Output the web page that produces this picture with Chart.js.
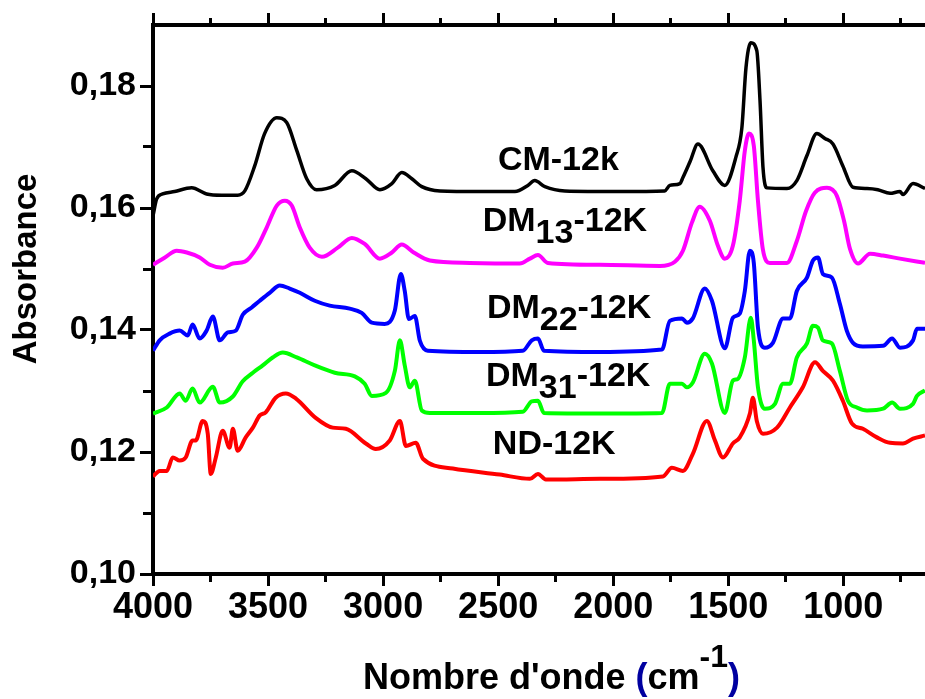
<!DOCTYPE html>
<html>
<head>
<meta charset="utf-8">
<script src="https://cdn.jsdelivr.net/npm/chart.js@4.4.0/dist/chart.umd.min.js"></script>
<style>
  html, body { margin: 0; padding: 0; background: #fff; }
  #wrap { width: 925px; height: 699px; }
</style>
</head>
<body>
<div id="wrap"><canvas id="spectres" width="925" height="699"></canvas></div>
<script>
// Spectres IR : absorbance en fonction du nombre d'onde (cm-1)
const cmWave = [4000, 3984, 3958, 3906, 3832, 3767, 3701, 3632, 3601, 3558, 3515, 3462, 3419, 3375, 3332, 3289, 3210, 3136, 3075, 3014, 2962, 2919, 2875, 2832, 2753, 2580, 2427, 2371, 2341, 2297, 2210, 1971, 1776, 1754, 1710, 1697, 1665, 1632, 1567, 1515, 1467, 1441, 1423, 1402, 1376, 1362, 1349, 1332, 1245, 1202, 1158, 1115, 1080, 1045, 1002, 958, 897, 850, 797, 754, 741, 697, 645];
const cmAbs = [0.1587, 0.1615, 0.1623, 0.1627, 0.1633, 0.1623, 0.1621, 0.1621, 0.1628, 0.1669, 0.1722, 0.1748, 0.1740, 0.1694, 0.1648, 0.1630, 0.1637, 0.1661, 0.1648, 0.1630, 0.1640, 0.1658, 0.1648, 0.1635, 0.1628, 0.1627, 0.1627, 0.1637, 0.1645, 0.1635, 0.1628, 0.1627, 0.1628, 0.1637, 0.1640, 0.1650, 0.1677, 0.1705, 0.1661, 0.1637, 0.1683, 0.1731, 0.1830, 0.1871, 0.1858, 0.1776, 0.1666, 0.1633, 0.1632, 0.1645, 0.1686, 0.1722, 0.1714, 0.1705, 0.1669, 0.1634, 0.1632, 0.1630, 0.1624, 0.1627, 0.1622, 0.1640, 0.1632];

const dm13Wave = [4000, 3948, 3897, 3853, 3797, 3753, 3697, 3653, 3601, 3549, 3506, 3462, 3427, 3397, 3362, 3319, 3266, 3197, 3136, 3080, 3014, 2962, 2919, 2867, 2797, 2623, 2406, 2362, 2327, 2284, 2058, 1797, 1732, 1697, 1658, 1624, 1580, 1545, 1515, 1480, 1450, 1428, 1410, 1389, 1371, 1350, 1319, 1245, 1202, 1162, 1124, 1071, 1028, 997, 971, 936, 884, 827, 754, 645];
const dm13Abs = [0.1507, 0.1519, 0.1530, 0.1527, 0.1519, 0.1507, 0.1502, 0.1509, 0.1512, 0.1535, 0.1568, 0.1604, 0.1612, 0.1604, 0.1568, 0.1535, 0.1520, 0.1535, 0.1551, 0.1541, 0.1517, 0.1527, 0.1540, 0.1527, 0.1514, 0.1510, 0.1509, 0.1517, 0.1523, 0.1510, 0.1507, 0.1505, 0.1512, 0.1530, 0.1576, 0.1602, 0.1579, 0.1538, 0.1517, 0.1538, 0.1612, 0.1694, 0.1722, 0.1702, 0.1612, 0.1533, 0.1510, 0.1510, 0.1546, 0.1595, 0.1625, 0.1633, 0.1620, 0.1579, 0.1533, 0.1509, 0.1525, 0.1522, 0.1517, 0.1510];

const dm22Wave = [4000, 3971, 3928, 3884, 3849, 3828, 3797, 3767, 3740, 3710, 3675, 3640, 3610, 3571, 3536, 3493, 3449, 3406, 3362, 3297, 3232, 3145, 3093, 3049, 2993, 2949, 2923, 2906, 2888, 2862, 2840, 2806, 2580, 2393, 2354, 2327, 2301, 2058, 1788, 1754, 1701, 1680, 1654, 1602, 1571, 1515, 1480, 1450, 1428, 1406, 1389, 1371, 1341, 1306, 1262, 1232, 1202, 1158, 1132, 1110, 1089, 1050, 1015, 985, 958, 915, 827, 788, 754, 697, 680, 645];
const dm22Abs = [0.1366, 0.1383, 0.1394, 0.1399, 0.1391, 0.1409, 0.1386, 0.1399, 0.1422, 0.1383, 0.1396, 0.1399, 0.1425, 0.1437, 0.1448, 0.1461, 0.1473, 0.1468, 0.1461, 0.1448, 0.1440, 0.1435, 0.1428, 0.1412, 0.1410, 0.1432, 0.1492, 0.1464, 0.1418, 0.1423, 0.1382, 0.1366, 0.1364, 0.1366, 0.1383, 0.1386, 0.1366, 0.1364, 0.1368, 0.1415, 0.1419, 0.1412, 0.1419, 0.1468, 0.1448, 0.1370, 0.1420, 0.1427, 0.1464, 0.1530, 0.1510, 0.1404, 0.1371, 0.1379, 0.1419, 0.1419, 0.1464, 0.1486, 0.1514, 0.1519, 0.1492, 0.1486, 0.1443, 0.1399, 0.1379, 0.1373, 0.1374, 0.1386, 0.1371, 0.1383, 0.1402, 0.1402];

const dm31Wave = [4000, 3940, 3884, 3858, 3828, 3797, 3740, 3710, 3653, 3610, 3566, 3523, 3480, 3436, 3375, 3297, 3210, 3123, 3080, 3049, 2988, 2949, 2927, 2906, 2884, 2862, 2832, 2797, 2580, 2393, 2354, 2327, 2301, 2058, 1788, 1754, 1701, 1680, 1654, 1602, 1571, 1515, 1480, 1458, 1428, 1402, 1389, 1371, 1341, 1297, 1262, 1232, 1202, 1158, 1132, 1110, 1089, 1050, 1015, 980, 941, 897, 827, 788, 754, 697, 680, 645];
const dm31Abs = [0.1263, 0.1273, 0.1296, 0.1284, 0.1304, 0.1281, 0.1307, 0.1281, 0.1291, 0.1316, 0.1330, 0.1342, 0.1355, 0.1363, 0.1355, 0.1342, 0.1330, 0.1324, 0.1312, 0.1292, 0.1297, 0.1333, 0.1383, 0.1342, 0.1306, 0.1317, 0.1268, 0.1264, 0.1264, 0.1266, 0.1283, 0.1284, 0.1264, 0.1263, 0.1264, 0.1312, 0.1312, 0.1306, 0.1314, 0.1361, 0.1345, 0.1264, 0.1317, 0.1320, 0.1355, 0.1420, 0.1383, 0.1306, 0.1271, 0.1279, 0.1312, 0.1312, 0.1355, 0.1378, 0.1407, 0.1404, 0.1383, 0.1378, 0.1333, 0.1284, 0.1273, 0.1268, 0.1271, 0.1281, 0.1271, 0.1279, 0.1292, 0.1301];

const ndWave = [4000, 3971, 3940, 3914, 3884, 3858, 3828, 3814, 3784, 3762, 3749, 3727, 3697, 3667, 3653, 3632, 3597, 3566, 3536, 3510, 3467, 3423, 3380, 3293, 3219, 3162, 3075, 3032, 2971, 2927, 2901, 2858, 2827, 2697, 2493, 2362, 2327, 2293, 2058, 1784, 1745, 1697, 1654, 1593, 1558, 1523, 1480, 1450, 1406, 1393, 1376, 1349, 1288, 1232, 1176, 1123, 1089, 1045, 1002, 963, 915, 854, 797, 741, 697, 645];
const ndAbs = [0.1160, 0.1169, 0.1169, 0.1191, 0.1186, 0.1191, 0.1219, 0.1219, 0.1251, 0.1230, 0.1164, 0.1191, 0.1235, 0.1207, 0.1238, 0.1202, 0.1224, 0.1240, 0.1260, 0.1265, 0.1289, 0.1296, 0.1288, 0.1256, 0.1240, 0.1238, 0.1214, 0.1205, 0.1219, 0.1251, 0.1210, 0.1215, 0.1189, 0.1173, 0.1163, 0.1156, 0.1164, 0.1155, 0.1156, 0.1160, 0.1174, 0.1169, 0.1197, 0.1251, 0.1219, 0.1191, 0.1214, 0.1224, 0.1263, 0.1289, 0.1251, 0.1230, 0.1240, 0.1273, 0.1306, 0.1347, 0.1333, 0.1317, 0.1284, 0.1247, 0.1238, 0.1224, 0.1215, 0.1214, 0.1222, 0.1227];

// graduations
const xTicks = [4000, 3750, 3500, 3250, 3000, 2750, 2500, 2250, 2000, 1750, 1500, 1250, 1000, 750];
const yTicks = [0.10, 0.11, 0.12, 0.13, 0.14, 0.15, 0.16, 0.17, 0.18];

// étiquettes des courbes (texte principal, indice, suite, ancrage en unités du graphe)
const labelMain = ['CM-12k', 'DM', 'DM', 'DM', 'ND-12K'];
const labelSub = ['', '13', '22', '31', ''];
const labelTail = ['', '-12K', '-12K', '-12K', ''];
const labelWave = [2501, 2567, 2549, 2553, 2523];
const labelAbs = [0.1663, 0.1563, 0.1420, 0.1309, 0.1197];

const FONT = '"Liberation Sans", Arial, sans-serif';

const toPoints = (w, a) => w.map((v, i) => ({ x: v, y: a[i] }));
const isMajorX = v => Math.round(v) % 500 === 0;
const isMajorY = v => Math.round(v * 100) % 2 === 0;

const textPlugin = {
    id: 'textes',
    afterDatasetsDraw(chart) {
        const { ctx } = chart;
        const xs = chart.scales.x;
        const ys = chart.scales.y;
        ctx.save();
        ctx.fillStyle = '#000';
        ctx.textAlign = 'left';
        ctx.textBaseline = 'alphabetic';
        ctx.font = 'bold 34px ' + FONT;
        labelMain.forEach((main, i) => {
            let px = xs.getPixelForValue(labelWave[i]);
            const py = ys.getPixelForValue(labelAbs[i]);
            ctx.fillText(main, px, py);
            px += ctx.measureText(main).width;
            if (labelSub[i]) {
                ctx.fillText(labelSub[i], px, py + 12);
                px += ctx.measureText(labelSub[i]).width;
                ctx.fillText(labelTail[i], px, py);
            }
        });

        // titre de l'axe des x, avec parenthèses en bleu et exposant
        let tx = 363;
        const ty = 689;
        const parts = [
            { t: "Nombre d'onde ", c: '#000', s: 36, dy: 0 },
            { t: '(', c: '#0000a0', s: 36, dy: 0 },
            { t: 'cm', c: '#000', s: 36, dy: 0 },
            { t: '-1', c: '#000', s: 32, dy: -22 },
            { t: ')', c: '#0000a0', s: 36, dy: 0 }
        ];
        parts.forEach(p => {
            ctx.font = 'bold ' + p.s + 'px ' + FONT;
            ctx.fillStyle = p.c;
            ctx.fillText(p.t, tx, ty + p.dy);
            tx += ctx.measureText(p.t).width;
        });

        // titre de l'axe des y
        ctx.translate(27, 269);
        ctx.rotate(-Math.PI / 2);
        ctx.textAlign = 'center';
        ctx.textBaseline = 'middle';
        ctx.fillStyle = '#000';
        ctx.font = 'bold 33px ' + FONT;
        ctx.fillText('Absorbance', 0, 0);
        ctx.restore();
    }
};

const lineSet = (label, w, a, color, width) => ({
    label: label,
    data: toPoints(w, a),
    borderColor: color,
    backgroundColor: color,
    borderWidth: width,
    pointRadius: 0,
    cubicInterpolationMode: 'monotone',
    borderJoinStyle: 'round',
    fill: false
});

const ctx = document.getElementById('spectres').getContext('2d');
new Chart(ctx, {
    type: 'line',
    data: {
        datasets: [
            lineSet('CM-12k', cmWave, cmAbs, '#000000', 3.5),
            lineSet('DM13-12K', dm13Wave, dm13Abs, '#ff00ff', 4),
            lineSet('DM22-12K', dm22Wave, dm22Abs, '#0000ff', 4),
            lineSet('DM31-12K', dm31Wave, dm31Abs, '#00ff00', 4),
            lineSet('ND-12K', ndWave, ndAbs, '#ff0000', 4)
        ]
    },
    options: {
        responsive: false,
        animation: false,
        devicePixelRatio: 1,
        layout: { padding: 0 },
        scales: {
            x: {
                type: 'linear',
                position: 'bottom',
                reverse: true,
                min: 645,
                max: 4000,
                afterBuildTicks: s => { s.ticks = xTicks.map(v => ({ value: v })); },
                afterFit: s => { s.height = 125; },
                ticks: {
                    autoSkip: false,
                    maxRotation: 0,
                    padding: 0,
                    color: '#000',
                    font: { family: FONT, size: 36, weight: 'bold' },
                    callback: v => isMajorX(v) ? String(v) : ''
                },
                grid: {
                    drawOnChartArea: false,
                    tickLength: 12,
                    tickWidth: 3,
                    tickColor: '#000',
                    tickBorderDash: c => isMajorX(c.tick.value) ? [] : [6, 30]
                },
                border: { color: '#000', width: 4 }
            },
            x2: {
                type: 'linear',
                position: 'top',
                reverse: true,
                min: 645,
                max: 4000,
                afterBuildTicks: s => { s.ticks = xTicks.map(v => ({ value: v })); },
                afterFit: s => { s.height = 25; },
                ticks: { display: false },
                grid: {
                    drawOnChartArea: false,
                    tickLength: 12,
                    tickWidth: 3,
                    tickColor: '#000',
                    tickBorderDash: c => isMajorX(c.tick.value) ? [] : [0, 5, 10, 30]
                },
                border: { color: '#000', width: 4 }
            },
            y: {
                type: 'linear',
                min: 0.10,
                max: 0.19,
                afterBuildTicks: s => { s.ticks = yTicks.map(v => ({ value: v })); },
                afterFit: s => { s.width = 153; },
                ticks: {
                    autoSkip: false,
                    padding: 4,
                    color: '#000',
                    font: { family: FONT, size: 34, weight: 'bold' },
                    callback: v => isMajorY(v) ? v.toFixed(2).replace('.', ',') : ''
                },
                grid: {
                    drawOnChartArea: false,
                    tickLength: 13,
                    tickWidth: 3,
                    tickColor: '#000',
                    tickBorderDash: c => isMajorY(c.tick.value) ? [] : [0, 3, 10, 30]
                },
                border: { color: '#000', width: 4 }
            }
        },
        plugins: {
            legend: { display: false },
            tooltip: { enabled: false }
        }
    },
    plugins: [textPlugin]
});
</script>
</body>
</html>
